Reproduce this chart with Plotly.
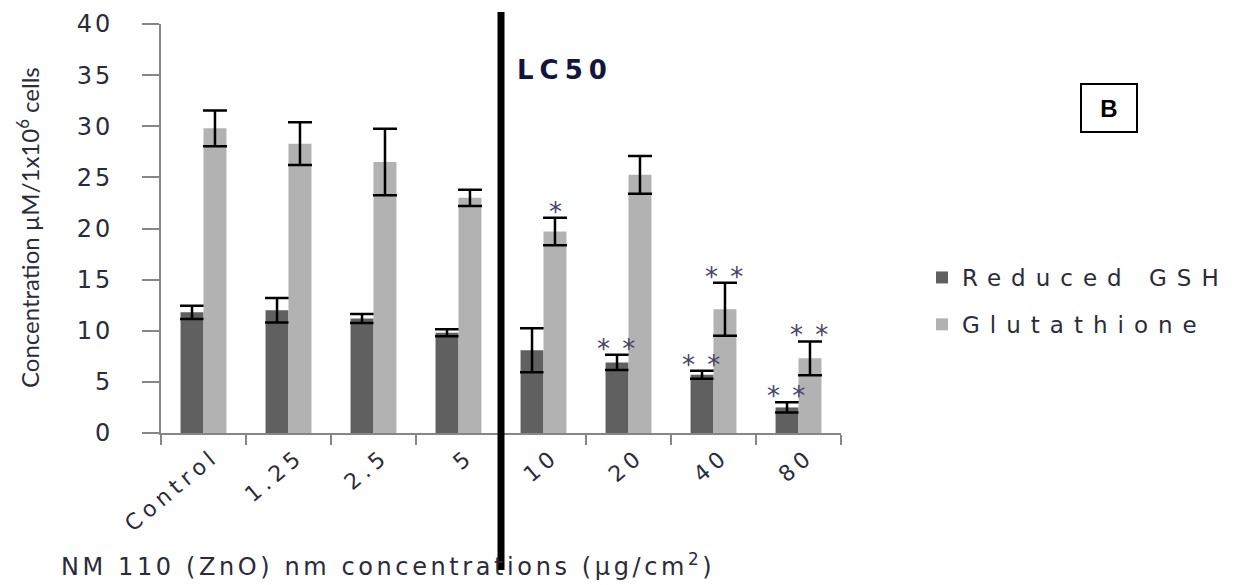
import plotly.graph_objects as go

categories = ["Control", "1.25", "2.5", "5", "10", "20", "40", "80"]
reduced_gsh = [11.8, 12.0, 11.2, 9.8, 8.1, 6.9, 5.7, 2.5]
reduced_gsh_err = [0.65, 1.2, 0.45, 0.35, 2.15, 0.75, 0.4, 0.5]
glutathione = [29.8, 28.3, 26.5, 23.0, 19.7, 25.25, 12.1, 7.3]
glutathione_err = [1.75, 2.1, 3.25, 0.8, 1.35, 1.85, 2.6, 1.65]
reduced_sig = ["", "", "", "", "", "* *", "* *", "* *"]
glutathione_sig = ["", "", "", "", "*", "", "* *", "* *"]
y_tick_values = [0, 5, 10, 15, 20, 25, 30, 35, 40]

TEXT = "#2b2b3a"
AXIS = "#868686"


def spaced(s, px):
    return f"<span style='letter-spacing:{px}px'>{s}</span>"


fig = go.Figure()
fig.add_trace(go.Bar(
    x=categories, y=reduced_gsh, name=spaced("Reduced GSH", 10),
    marker=dict(color="#606060", line=dict(width=0)),
    error_y=dict(type="data", array=reduced_gsh_err, color="black", thickness=2.5, width=12),
    legendgroup="a",
))
fig.add_trace(go.Bar(
    x=categories, y=glutathione, name=spaced("Glutathione", 10),
    marker=dict(color="#b2b2b2", line=dict(width=0)),
    error_y=dict(type="data", array=glutathione_err, color="black", thickness=2.5, width=12),
    legendgroup="b",
))

annotations = []
for i, c in enumerate(categories):
    for vals, errs, sigs, shift in ((reduced_gsh, reduced_gsh_err, reduced_sig, -11.5),
                                    (glutathione, glutathione_err, glutathione_sig, 11.5)):
        sig = sigs[i]
        if sig:
            annotations.append(dict(
                x=i, y=vals[i] + errs[i], xref="x", yref="y", xshift=shift, yshift=6,
                xanchor="center", yanchor="middle",
                text=spaced(sig, 2) if " " in sig else sig, showarrow=False,
                font=dict(family="DejaVu Sans", size=26, color="#444466"),
            ))

annotations.append(dict(
    x=0.52, y=0.8875, xref="paper", yref="paper", xanchor="left", yanchor="middle",
    text="<b>" + spaced("LC50", 6) + "</b>", showarrow=False,
    font=dict(family="DejaVu Sans", size=26, color="#14143c"),
))
annotations.append(dict(
    x=(1109 - 161) / 680, y=(433 - 108.5) / 409, xref="paper", yref="paper",
    xanchor="center", yanchor="middle",
    text="<b>B</b>", showarrow=False, width=54, height=46, borderpad=0,
    bordercolor="black", borderwidth=2,
    font=dict(family="Liberation Sans", size=24, color="black"),
))
annotations.append(dict(
    x=(28 - 161) / 680, y=(433 - 228) / 409, xref="paper", yref="paper", textangle=-90,
    xanchor="center", yanchor="middle",
    text="Concentration µM/1x10<sup>6</sup> cells", showarrow=False,
    font=dict(family="Lato", size=24, color=TEXT),
))
annotations.append(dict(
    x=(388 - 161) / 680, y=(433 - 565) / 409, xref="paper", yref="paper",
    xanchor="center", yanchor="middle",
    text=spaced("NM 110 (ZnO) nm concentrations (µg/cm<sup>2</sup>)", 3.6), showarrow=False,
    font=dict(family="DejaVu Sans", size=24, color=TEXT),
))

fig.add_shape(type="line", xref="x", yref="paper", x0=3.5, x1=3.5,
              y0=(433 - 570) / 409, y1=(433 - 12) / 409,
              line=dict(color="black", width=7))

fig.update_layout(
    width=1236, height=585,
    margin=dict(l=153, r=403, t=16, b=160, autoexpand=False),
    paper_bgcolor="white", plot_bgcolor="white",
    barmode="group", bargap=0.46, bargroupgap=0,
    showlegend=True,
    legend=dict(x=(922 - 161) / 680, y=(433 - 256) / 409, xanchor="left", yanchor="top",
                font=dict(family="DejaVu Sans", size=23, color=TEXT),
                tracegroupgap=14, itemwidth=30, bgcolor="rgba(0,0,0,0)"),
    annotations=annotations,
    font=dict(family="DejaVu Sans", color=TEXT),
)
fig.update_xaxes(
    type="category", range=[-0.5, 7.5], showline=True, linecolor=AXIS, linewidth=2,
    ticks="outside", tickson="boundaries", ticklen=10, tickcolor=AXIS, tickwidth=2,
    tickangle=-40, tickmode="array", tickvals=categories,
    ticktext=[spaced(c, 5) for c in categories],
    tickfont=dict(family="DejaVu Sans", size=22, color=TEXT),
    ticklabelshift=10, automargin=False,
    showgrid=False, zeroline=False,
)
fig.update_yaxes(
    range=[0, 40], showline=True, linecolor=AXIS, linewidth=2,
    ticks="outside", ticklen=17, tickcolor=AXIS, tickwidth=2,
    tickmode="array", tickvals=y_tick_values,
    ticktext=[spaced(str(v), 3) for v in y_tick_values],
    tickfont=dict(family="DejaVu Sans", size=24, color=TEXT),
    ticklabelstandoff=24, automargin=False,
    showgrid=False, zeroline=False,
)

fig.write_html("out.html")
